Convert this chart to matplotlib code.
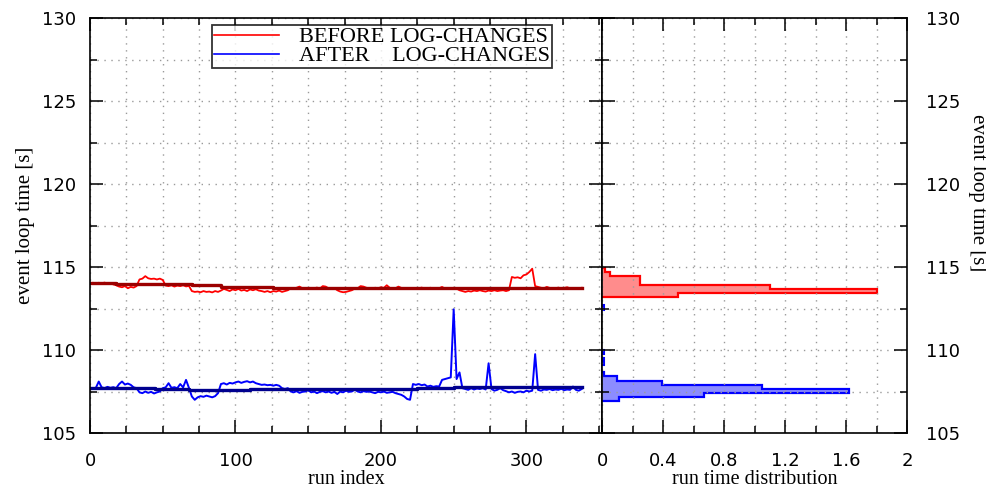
#! /usr/bin/env python3

import matplotlib
matplotlib.use("Agg")
import matplotlib.pyplot as plt
from matplotlib.ticker import MultipleLocator
import numpy as np

# run index of every sample (read every second run off the picture)
runs = np.arange(0, 340, 2)

before = [
    114.02, 114.05, 114.0, 114.05, 114.02, 114.06, 114.0, 114.04, 113.95, 113.9,
    113.82, 113.78, 113.85, 113.72, 113.8, 113.76, 113.85, 114.25, 114.3, 114.45,
    114.32, 114.28, 114.3, 114.25, 114.3, 114.22, 113.88, 113.85, 113.9, 113.82,
    113.88, 113.85, 113.9, 113.83, 113.86, 113.55, 113.5, 113.52, 113.48, 113.55,
    113.5, 113.52, 113.47, 113.55, 113.5, 113.58, 113.68, 113.62, 113.55, 113.65,
    113.6, 113.68, 113.58, 113.62, 113.55, 113.65, 113.6, 113.66, 113.58, 113.55,
    113.5, 113.55, 113.48, 113.55, 113.52, 113.58, 113.5, 113.55, 113.6, 113.72,
    113.7, 113.75, 113.82, 113.72, 113.7, 113.74, 113.68, 113.72, 113.76, 113.7,
    113.85, 113.82, 113.72, 113.7, 113.74, 113.6, 113.52, 113.48, 113.5, 113.55,
    113.6, 113.7, 113.72, 113.85, 113.82, 113.75, 113.72, 113.7, 113.75, 113.72,
    113.78, 113.74, 113.9, 113.75, 113.7, 113.72, 113.82, 113.74, 113.7, 113.72,
    113.68, 113.74, 113.7, 113.72, 113.76, 113.7, 113.72, 113.75, 113.7, 113.74,
    113.72, 113.8, 113.7, 113.74, 113.7, 113.75, 113.7, 113.6, 113.55, 113.5,
    113.55, 113.52, 113.58, 113.55, 113.6, 113.55, 113.52, 113.58, 113.55, 113.6,
    113.55, 113.58, 113.6, 113.55, 113.6, 114.4, 114.35, 114.38, 114.32, 114.5,
    114.55, 114.7, 114.9, 113.85, 113.8, 113.75, 113.72, 113.8, 113.74, 113.7,
    113.72, 113.76, 113.7, 113.74, 113.78, 113.72, 113.7, 113.74, 113.72, 113.75,
]

after = [
    107.7, 107.65, 107.72, 108.1, 107.75, 107.7, 107.78, 107.72, 107.76, 107.7,
    107.95, 108.1, 107.92, 107.98, 107.9, 107.75, 107.7, 107.45, 107.4, 107.5,
    107.42, 107.48, 107.38, 107.45, 107.5, 107.7, 107.75, 108.0, 107.72, 107.76,
    107.7, 107.95, 107.75, 108.2, 107.72, 107.2, 107.0, 107.15, 107.22, 107.18,
    107.25, 107.2, 107.15, 107.22, 107.4, 107.95, 108.0, 107.92, 108.02, 107.98,
    108.05, 108.1, 108.02, 108.08, 108.12, 108.05, 108.1, 108.0, 107.95, 107.9,
    107.92, 107.88, 107.9, 107.85, 107.9, 107.85, 107.7, 107.65, 107.7, 107.5,
    107.45, 107.52, 107.42, 107.48, 107.5, 107.58, 107.45, 107.5, 107.4, 107.48,
    107.52, 107.45, 107.5, 107.42, 107.48, 107.35, 107.5, 107.45, 107.55, 107.48,
    107.5, 107.62, 107.5, 107.45, 107.52, 107.48, 107.5, 107.45, 107.4, 107.48,
    107.45, 107.5, 107.42, 107.45, 107.48, 107.4, 107.35, 107.3, 107.2, 107.05,
    107.0, 107.95, 107.9, 107.95, 107.88, 107.92, 107.8, 107.85, 107.78, 107.82,
    107.8, 108.2, 108.25, 108.3, 108.35, 112.45, 108.25, 108.65, 107.7, 107.65,
    107.6, 107.7, 107.62, 107.68, 107.65, 107.7, 107.62, 109.2, 107.65, 107.55,
    107.6, 107.7, 107.58, 107.52, 107.45, 107.5, 107.42, 107.48, 107.5, 107.45,
    107.55, 107.5, 107.55, 109.75, 107.6, 107.55, 107.62, 107.6, 107.65, 107.58,
    107.62, 107.6, 107.66, 107.58, 107.62, 107.6, 107.8, 107.6, 107.55, 107.65,
]

# slowly varying reference levels (thick dark lines), step form
before_ref_runs = [0, 18, 40, 70, 90, 126, 338]
before_ref_vals = [114.05, 114.0, 113.97, 113.9, 113.8, 113.72, 113.72]
after_ref_runs = [0, 45, 68, 110, 225, 250, 338]
after_ref_vals = [107.72, 107.68, 107.62, 107.67, 107.7, 107.78, 107.78]

# run time distribution (density per bin)
before_edges = [113.22, 113.44, 113.68, 113.93, 114.18, 114.43, 114.70, 114.95]
before_dens = [0.5, 1.8, 1.1, 0.25, 0.25, 0.05, 0.02]
after_edges = [106.95, 107.15, 107.43, 107.63, 107.89, 108.15, 108.43, 108.70]
after_dens = [0.11, 0.67, 1.62, 1.05, 0.39, 0.095, 0.012]
after_out_lo = [109.10, 109.40, 109.75, 112.40]
after_out_hi = [109.25, 109.52, 110.00, 112.70]
after_out_dens = [0.012, 0.012, 0.012, 0.012]

labels = ["BEFORE LOG-CHANGES", "AFTER    LOG-CHANGES"]
serif = "Liberation Serif"


def style(ax):
    ax.tick_params(which="both", direction="in", top=True, bottom=True,
                   left=True, right=True, width=1.1, labelsize=13)
    ax.tick_params(which="major", length=9.5)
    ax.tick_params(which="minor", length=5)
    ax.tick_params(axis="x", which="both", pad=14)
    ax.grid(which="both", color="#9a9a9a", linestyle=(0, (1, 4)), linewidth=1.0)
    for s in ax.spines.values():
        s.set_linewidth(1.2)
    ax.set_ylim(105, 130)
    ax.yaxis.set_major_locator(MultipleLocator(5))
    ax.yaxis.set_minor_locator(MultipleLocator(2.5))


def hist(ax, edges, dens, fill, edge):
    h = np.diff(edges)
    ax.barh(edges[:-1], dens, height=h, align="edge", color=fill, lw=0)
    ax.stairs(dens, edges, orientation="horizontal", baseline=0,
              color=edge, lw=1.6)


def mkplot():
    fig = plt.figure(figsize=(9.86, 4.88), dpi=100)
    ax = fig.add_axes([0.0913, 0.1127, 0.5193, 0.8504])
    ax2 = fig.add_axes([0.6106, 0.1127, 0.3093, 0.8504])

    # left: time series
    style(ax)
    ax.plot(runs, before, color="#ff0000", lw=1.3, label=labels[0])
    ax.plot(runs, after, color="#0000ff", lw=1.4, label=labels[1])
    ax.step(before_ref_runs, before_ref_vals, where="post", color="#9b0000", lw=2.4)
    ax.step(after_ref_runs, after_ref_vals, where="post", color="#00008f", lw=2.4)
    ax.set_xlim(0, 352)
    ax.xaxis.set_major_locator(MultipleLocator(100))
    ax.xaxis.set_minor_locator(MultipleLocator(25))
    ax.tick_params(axis="y", which="both", pad=10)
    ax.set_xlabel("run index", family=serif, fontsize=14.5, labelpad=0)
    ax.set_ylabel("event loop time [s]", family=serif, fontsize=15, labelpad=5)

    leg = ax.legend(loc="upper left", bbox_to_anchor=(0.238, 0.982),
                    prop={"family": serif, "size": 16}, frameon=True,
                    fancybox=False, handlelength=2.9, handletextpad=0.9,
                    borderpad=0.1, labelspacing=0.0, borderaxespad=0,
                    handleheight=0.5)
    leg.get_frame().set_edgecolor("black")
    leg.get_frame().set_linewidth(1.3)
    for ln in leg.get_lines():
        ln.set_linewidth(1.2)

    # right: distribution
    style(ax2)
    hist(ax2, before_edges, before_dens, "#ff8c8c", "#ff0000")
    hist(ax2, after_edges, after_dens, "#8c8cff", "#0000ff")
    ax2.barh(after_out_lo, after_out_dens,
             height=np.array(after_out_hi) - np.array(after_out_lo),
             align="edge", color="#8c8cff", edgecolor="#0000ff", lw=1.5)
    ax2.set_xlim(0, 2)
    ax2.xaxis.set_major_locator(MultipleLocator(0.4))
    ax2.xaxis.set_minor_locator(MultipleLocator(0.2))
    ax2.xaxis.set_major_formatter(lambda v, p: "{:g}".format(round(v, 1)))
    ax2.tick_params(axis="y", which="both", labelleft=False, labelright=True, pad=14)
    ax2.set_xlabel("run time distribution", family=serif, fontsize=14.5, labelpad=0)
    ax2.yaxis.set_label_position("right")
    ax2.set_ylabel("event loop time [s]", family=serif, fontsize=15,
                   rotation=270, va="bottom")
    ax2.yaxis.set_label_coords(1.20, 0.58)

    fig.savefig("out.png", dpi=100)


if __name__ == "__main__":
    mkplot()
